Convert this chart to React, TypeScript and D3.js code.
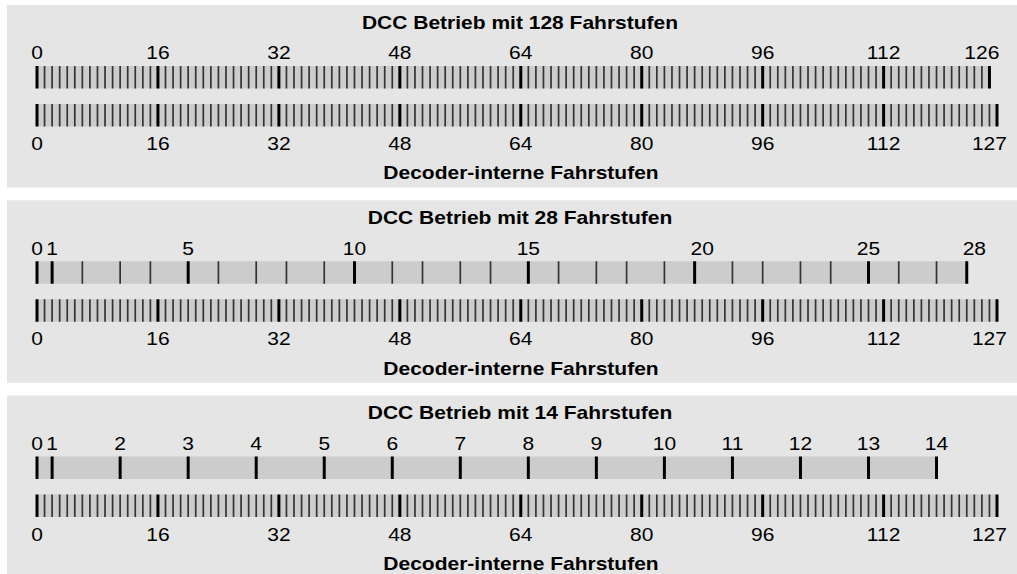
import { useEffect, useRef } from 'react'
import * as d3 from 'd3'

// decoder-internal speed steps (lower bar, same in every panel)
const decoderTicks = d3.range(0, 128)
const decoderMajor = [0, 16, 32, 48, 64, 80, 96, 112, 127]
const decoderLabels = ['0', '16', '32', '48', '64', '80', '96', '112', '127']
const decoderLabelAt = [0, 16, 32, 48, 64, 80, 96, 112, 126]

const panelTitles = [
  'DCC Betrieb mit 128 Fahrstufen',
  'DCC Betrieb mit 28 Fahrstufen',
  'DCC Betrieb mit 14 Fahrstufen',
]
const bottomTitle = 'Decoder-interne Fahrstufen'

// 128 mode: DCC step n -> internal step n
const ticks128 = d3.range(0, 127)
const major128 = [0, 16, 32, 48, 64, 80, 96, 112, 126]
const labels128 = ['0', '16', '32', '48', '64', '80', '96', '112', '126']
const labelAt128 = [0, 16, 32, 48, 64, 80, 96, 112, 125]

// 28 mode: internal step for each DCC step 0..28
const ticks28 = [0, 2, 6, 11, 15, 20, 24, 29, 33, 38, 42, 47, 51, 56, 60, 65, 69, 74, 78, 83, 87, 92, 96, 101, 105, 110, 114, 119, 123]
const major28 = [0, 2, 20, 42, 65, 87, 110, 123]
const labels28 = ['0', '1', '5', '10', '15', '20', '25', '28']
const labelAt28 = [0, 2, 20, 42, 65, 88, 110, 124]

// 14 mode: internal step for each DCC step 0..14
const ticks14 = [0, 2, 11, 20, 29, 38, 47, 56, 65, 74, 83, 92, 101, 110, 119]
const labels14 = ['0', '1', '2', '3', '4', '5', '6', '7', '8', '9', '10', '11', '12', '13', '14']

const modes = [
  { ticks: ticks128, major: major128, labels: labels128, labelAt: labelAt128 },
  { ticks: ticks28, major: major28, labels: labels28, labelAt: labelAt28 },
  { ticks: ticks14, major: ticks14, labels: labels14, labelAt: ticks14 },
]

const W = 1017
const H = 574
const SX = 1.13 // text is a bit wide in the original

export default function App() {
  const svgRef = useRef<SVGSVGElement>(null)

  useEffect(() => {
    if (!svgRef.current) return
    const svg = d3.select(svgRef.current)
    svg.selectAll('*').remove()

    const x = d3.scaleLinear().domain([0, 127]).range([37, 997])
    const panelY = d3.scaleLinear().domain([0, 1]).range([5, 200.25])

    const text = (g: any, tx: number, ty: number, s: string, bold = false) =>
      g.append('text')
        .attr('transform', `translate(${tx},${ty}) scale(${SX},1)`)
        .attr('text-anchor', 'middle')
        .attr('font-family', 'Liberation Sans, Arial, sans-serif')
        .attr('font-size', '18.6px')
        .attr('font-weight', bold ? 'bold' : 'normal')
        .attr('fill', '#000')
        .text(s)

    const bar = (g: any, y0: number, ticks: number[], major: number[]) => {
      const last = d3.max(ticks) ?? 0
      g.append('rect')
        .attr('x', x(0)).attr('y', y0)
        .attr('width', x(last) - x(0)).attr('height', 22.5)
        .attr('fill', '#cccccc')
      ticks.filter(t => !major.includes(t)).forEach(t => {
        g.append('line')
          .attr('x1', x(t)).attr('x2', x(t))
          .attr('y1', y0).attr('y2', y0 + 22.5)
          .attr('stroke', '#333').attr('stroke-width', 1.7)
      })
      major.forEach(t => {
        g.append('line')
          .attr('x1', x(t)).attr('x2', x(t))
          .attr('y1', y0).attr('y2', y0 + 22.5)
          .attr('stroke', '#000').attr('stroke-width', 3)
      })
    }

    modes.forEach((m, i) => {
      const g = svg.append('g').attr('transform', `translate(0,${panelY(i)})`)

      g.append('rect')
        .attr('x', 7).attr('y', 0)
        .attr('width', W).attr('height', 182.5)
        .attr('fill', '#e5e5e5')

      text(g, 520, 23.5, panelTitles[i], true)

      m.labels.forEach((l, j) => text(g, x(m.labelAt[j]), 54.3, l))
      bar(g, 61, m.ticks, m.major)

      bar(g, 99, decoderTicks, decoderMajor)
      decoderLabels.forEach((l, j) => text(g, x(decoderLabelAt[j]), 145, l))

      text(g, 521, 174.3, bottomTitle, true)
    })
  }, [])

  return (
    <svg
      ref={svgRef}
      width={W}
      height={H}
      style={{ position: 'absolute', left: 0, top: 0, background: '#fff' }}
    />
  )
}
